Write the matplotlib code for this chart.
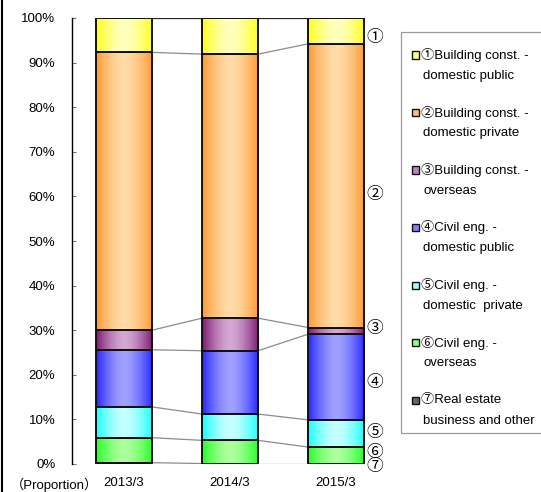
import numpy as np
import matplotlib
matplotlib.use('Agg')
import matplotlib.pyplot as plt
from matplotlib.patches import Rectangle
from matplotlib.lines import Line2D

plt.rcParams['font.family'] = ['Liberation Sans', 'Noto Sans CJK JP', 'DejaVu Sans']

# data (shares in %, stacked bottom -> top)
years = ['2013/3', '2014/3', '2015/3']
real_estate = [0.3, 0.1, 0.1]
civil_overseas = [5.6, 5.2, 3.7]
civil_private = [6.9, 5.9, 6.1]
civil_public = [12.8, 14.2, 19.2]
building_overseas = [4.4, 7.3, 1.5]
building_private = [62.3, 59.2, 63.6]
building_public = [7.7, 8.1, 5.8]

series = [real_estate, civil_overseas, civil_private, civil_public,
          building_overseas, building_private, building_public]
marks = ['⑦', '⑥', '⑤', '④', '③', '②', '①']
legend_labels = ['①Building const. -\ndomestic public',
                 '②Building const. -\ndomestic private',
                 '③Building const. -\noverseas',
                 '④Civil eng. -\ndomestic public',
                 '⑤Civil eng. -\ndomestic  private',
                 '⑥Civil eng. -\noverseas',
                 '⑦Real estate\nbusiness and other']

# gradient colours (edge, centre), same order as series
edge_cols = [(0.2, 0.2, 0.2), (0.15, 1.0, 0.15), (0.1, 1.0, 1.0), (0.15, 0.15, 1.0),
             (0.5, 0.1, 0.45), (1.0, 0.6, 0.2), (1.0, 1.0, 0.1)]
center_cols = [(0.55, 0.55, 0.55), (0.68, 1.0, 0.62), (0.78, 1.0, 1.0), (0.63, 0.63, 1.0),
               (0.83, 0.66, 0.83), (1.0, 0.86, 0.66), (1.0, 1.0, 0.75)]
legend_cols = [(0.4, 0.4, 0.4), (0.55, 1.0, 0.5), (0.6, 1.0, 1.0), (0.5, 0.5, 1.0),
               (0.75, 0.5, 0.75), (1.0, 0.75, 0.45), (1.0, 1.0, 0.55)]


def grad_img(edge, center, n=64):
    t = np.abs(np.linspace(-1, 1, n)) ** 1.6
    edge = np.array(edge)
    center = np.array(center)
    img = center[None, :] * (1 - t[:, None]) + edge[None, :] * t[:, None]
    return img[None, :, :]


W, H = 541, 492
fig = plt.figure(figsize=(W / 100, H / 100), dpi=100)
ax = fig.add_axes([72 / W, 1 - 464 / H, (390 - 72) / W, (464 - 18) / H])

x = np.arange(len(years))
bw = 56 / 106
bottom = np.zeros(len(years))
cum = []
for j, vals in enumerate(series):
    vals = np.array(vals)
    bars = ax.bar(x, vals, bw, bottom=bottom, facecolor='none',
                  edgecolor='#111111', linewidth=1.4, zorder=3)
    img = grad_img(edge_cols[j], center_cols[j])
    for i, rect in enumerate(bars):
        im = ax.imshow(img, extent=[x[i] - bw / 2, x[i] + bw / 2, bottom[i], bottom[i] + vals[i]],
                       aspect='auto', zorder=2)
        im.set_clip_path(rect)
    bottom = bottom + vals
    cum.append(bottom.copy())

# series lines
for j, top in enumerate(cum):
    col = '#222222' if j == len(cum) - 1 else '#8c8c8c'
    for i in range(len(years) - 1):
        ax.plot([x[i] + bw / 2, x[i + 1] - bw / 2], [top[i], top[i + 1]],
                color=col, lw=0.9, zorder=1)

# circled labels beside last bar
nudge = [-0.6, 0.6, 0.3, -1.3, 0.6, -2.0, -1.4]
prev = 0
for j, top in enumerate(cum):
    mid = (prev + top[-1]) / 2 + nudge[j]
    prev = top[-1]
    ax.text(x[-1] + bw / 2 + 0.1, mid, marks[j], ha='center', va='center', fontsize=12)

ax.set_xlim(-0.4906, 2.509)
ax.set_ylim(0, 100)
ax.set_aspect('auto')
ax.set_yticks(np.arange(0, 101, 10))
ax.set_yticklabels([f'{v}%' for v in range(0, 101, 10)])
ax.set_xticks(x)
ax.set_xticklabels(years)
ax.tick_params(axis='y', direction='in', length=3, color='#777777', pad=12, labelsize=9.5)
ax.tick_params(axis='x', length=0, pad=9, labelsize=9.5)
for s in ['top', 'right', 'bottom']:
    ax.spines[s].set_visible(False)
ax.spines['left'].set_linewidth(1.0)

fig.text(54 / W, 1 - 485 / H, '（Proportion）', ha='center', va='center', fontsize=9.5)

# legend box
fig.add_artist(Rectangle((401 / W, 1 - 433 / H), 150 / W, (433 - 32) / H, transform=fig.transFigure,
                         facecolor='white', edgecolor='#9a9a9a', lw=0.9))
for k, lab in enumerate(legend_labels):
    yc = 55 + k * 57.5
    col = legend_cols[len(legend_cols) - 1 - k]
    fig.add_artist(Rectangle((411.5 / W, 1 - (yc + 3.5) / H), 7 / W, 7 / H, transform=fig.transFigure,
                             facecolor=col, edgecolor='#111111', lw=1.0))
    l1, l2 = lab.split('\n')
    fig.text(421 / W, 1 - yc / H, l1, ha='left', va='center', fontsize=9.5)
    fig.text(423 / W, 1 - (yc + 20.5) / H, l2, ha='left', va='center', fontsize=9.5)

# edge of neighbouring chart at left
fig.add_artist(Line2D([1.5 / W, 1.5 / W], [0, 1], transform=fig.transFigure, color='black', lw=1.5))

fig.savefig('out.png', dpi=100)
